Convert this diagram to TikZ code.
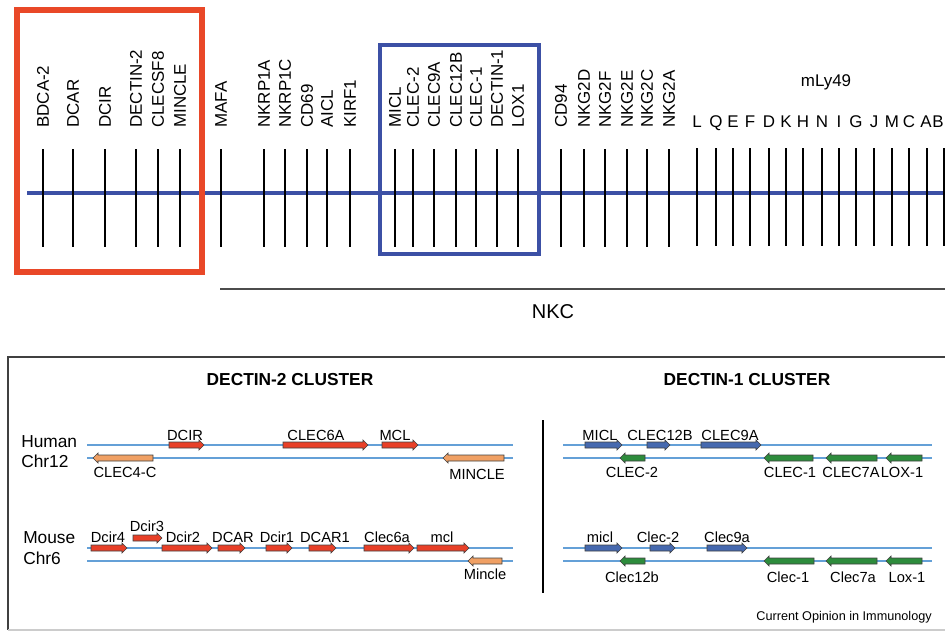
\documentclass[tikz,border=0pt]{standalone}
\usepackage{fontspec}
\setmainfont{Liberation Sans}
\usepackage{tikz}
\usetikzlibrary{positioning}
\usepackage{xcolor}

\definecolor{boxred}{RGB}{233,72,40}
\definecolor{chrblue}{RGB}{60,80,165}
\definecolor{strand}{RGB}{100,160,215}
\definecolor{genered}{RGB}{232,64,40}
\definecolor{geneorange}{RGB}{240,160,100}
\definecolor{geneblue}{RGB}{70,105,175}
\definecolor{genegreen}{RGB}{45,140,60}

% gene arrows: from, to, y, colour
\newcommand{\genefw}[4]{\draw[gene, fill=#4] (#1,#3-3) -- (#2-5,#3-3) -- (#2-5,#3-5) -- (#2,#3) -- (#2-5,#3+5) -- (#2-5,#3+3) -- (#1,#3+3) -- cycle;}
\newcommand{\generv}[4]{\draw[gene, fill=#4] (#2,#3-3) -- (#1+5,#3-3) -- (#1+5,#3-5) -- (#1,#3) -- (#1+5,#3+5) -- (#1+5,#3+3) -- (#2,#3+3) -- cycle;}

\begin{document}
\begin{tikzpicture}[x=0.75pt, y=-0.75pt,
    tick/.style={line width=1.9pt},
    thintick/.style={line width=0.9pt},
    vlbl/.style={rotate=90, anchor=west, inner sep=0pt, font=\fontsize{12.7}{14}\selectfont},
    glbl/.style={anchor=base, inner sep=0pt, font=\fontsize{11}{13}\selectfont},
    chrlbl/.style={anchor=base west, inner sep=0pt, font=\fontsize{13}{15}\selectfont},
    strandline/.style={strand, line width=1.1pt},
    gene/.style={draw=black!75, line width=0.5pt}]
    \useasboundingbox (0,0) rectangle (945,632);

    % Chromosome map
    \draw[chrblue, line width=3pt] (27,193) -- (945,193);
    \foreach \x/\name in {43/BDCA-2, 73/DCAR, 105/DCIR, 136/DECTIN-2, 158/CLECSF8, 180/MINCLE, 221/MAFA,
        264/NKRP1A, 285/NKRP1C, 307/CD69, 327/AICL, 350/KIRF1, 395/MICL, 413/CLEC-2, 434/CLEC9A,
        456/CLEC12B, 476/CLEC-1, 497/DECTIN-1, 518/LOX1, 561/CD94, 584/NKG2D, 605/NKG2F, 627/NKG2E,
        647/NKG2C, 669/NKG2A}
    {
        \draw[tick] (\x,149) -- (\x,247);
        \node[vlbl] (n-\name) at (\x,128) {\name};
    }
    \foreach \x/\l in {697/L, 716/Q, 733/E, 750/F, 769/D, 786/K, 803/H, 822/N, 839/I, 856/G, 874/J,
        892/M, 909/C, 927/A, 944/B}
        \draw[thintick] (\x,148) -- (\x,246);
    \foreach \x/\l in {697/L, 716/Q, 733/E, 750/F, 769/D, 786/K, 803/H, 822/N, 839/I, 856/G, 874/J,
        892/M, 909/C, 926/A, 938/B}
        \node[anchor=base, inner sep=0pt, font=\fontsize{12.7}{14}\selectfont] (ly-\l) at (\x,127) {\l};
    \node[anchor=base, inner sep=0pt, font=\fontsize{12.7}{14}\selectfont] (ly49) at (826,86) {mLy49};

    \draw[boxred, line width=4.5pt] (17,10) rectangle (202,272);
    \draw[chrblue, line width=3.7pt] (380,45) rectangle (539,254);

    \draw[black!70, line width=1.2pt] (220,289) -- (945,289);
    \node[anchor=base, inner sep=0pt, font=\fontsize{15}{17}\selectfont] (nkc) at (553,318) {NKC};

    % Cluster panel
    \draw[black!75, line width=1pt] (945,357) -- (8,357) -- (8,630);
    \draw[black!20, line width=1pt] (8,630) -- (945,630);
    \node[font=\fontsize{13}{15}\selectfont\bfseries] (dec2) at (290,380) {DECTIN-2 CLUSTER};
    \node[font=\fontsize{13}{15}\selectfont\bfseries] (dec1) at (747,380) {DECTIN-1 CLUSTER};
    \draw[line width=2.2pt] (543,420) -- (543,593);

    \node[chrlbl] (human) at (21,447) {Human};
    \node[chrlbl] (chr12) at (21,467) {Chr12};
    \node[chrlbl] (mouse) at (23,543) {Mouse};
    \node[chrlbl] (chr6) at (23,564) {Chr6};

    \foreach \y in {445,458,548,561} {
        \draw[strandline] (87,\y) -- (513,\y);
        \draw[strandline] (563,\y) -- (932,\y);
    }

    % Dectin-2 cluster, human
    \genefw{169}{204}{445}{genered}
    \genefw{283}{368}{445}{genered}
    \genefw{382}{418}{445}{genered}
    \generv{93}{153}{458}{geneorange}
    \generv{443}{504}{458}{geneorange}
    \node[glbl] (h-dcir) at (185,440) {DCIR};
    \node[glbl] (h-clec6a) at (316,440) {CLEC6A};
    \node[glbl] (h-mcl) at (395,440) {MCL};
    \node[glbl] (h-clec4c) at (125,477) {CLEC4-C};
    \node[glbl] (h-mincle) at (477,479) {MINCLE};

    % Dectin-2 cluster, mouse
    \genefw{91}{127}{548}{genered}
    \genefw{133}{162}{538}{genered}
    \genefw{162}{212}{548}{genered}
    \genefw{218}{245}{548}{genered}
    \genefw{266}{292}{548}{genered}
    \genefw{309}{336}{548}{genered}
    \genefw{364}{414}{548}{genered}
    \genefw{417}{469}{548}{genered}
    \generv{468}{502}{561}{geneorange}
    \node[glbl] (m-dcir4) at (108,542) {Dcir4};
    \node[glbl] (m-dcir3) at (147,531) {Dcir3};
    \node[glbl] (m-dcir2) at (183,542) {Dcir2};
    \node[glbl] (m-dcar) at (233,542) {DCAR};
    \node[glbl] (m-dcir1) at (277,542) {Dcir1};
    \node[glbl] (m-dcar1) at (325,542) {DCAR1};
    \node[glbl] (m-clec6a) at (387,542) {Clec6a};
    \node[glbl] (m-mcl) at (442,542) {mcl};
    \node[glbl] (m-mincle) at (485,579) {Mincle};

    % Dectin-1 cluster, human
    \genefw{585}{622}{445}{geneblue}
    \genefw{647}{670}{445}{geneblue}
    \genefw{701}{761}{445}{geneblue}
    \generv{620}{645}{458}{genegreen}
    \generv{764}{813}{458}{genegreen}
    \generv{826}{877}{458}{genegreen}
    \generv{886}{922}{458}{genegreen}
    \node[glbl] (h-micl) at (600,440) {MICL};
    \node[glbl] (h-clec12b) at (660,440) {CLEC12B};
    \node[glbl] (h-clec9a) at (730,440) {CLEC9A};
    \node[glbl] (h-clec2) at (632,477) {CLEC-2};
    \node[glbl] (h-clec1) at (790,477) {CLEC-1};
    \node[glbl] (h-clec7a) at (851,477) {CLEC7A};
    \node[glbl] (h-lox1) at (902,477) {LOX-1};

    % Dectin-1 cluster, mouse
    \genefw{585}{622}{548}{geneblue}
    \genefw{650}{675}{548}{geneblue}
    \genefw{707}{747}{548}{geneblue}
    \generv{620}{645}{561}{genegreen}
    \generv{764}{814}{561}{genegreen}
    \generv{826}{877}{561}{genegreen}
    \generv{886}{922}{561}{genegreen}
    \node[glbl] (m-micl) at (600,542) {micl};
    \node[glbl] (m-clec2) at (658,542) {Clec-2};
    \node[glbl] (m-clec9a) at (727,542) {Clec9a};
    \node[glbl] (m-clec12b) at (632,582) {Clec12b};
    \node[glbl] (m-clec1) at (788,582) {Clec-1};
    \node[glbl] (m-clec7a) at (853,582) {Clec7a};
    \node[glbl] (m-lox1) at (907,582) {Lox-1};

    \node[anchor=base east, inner sep=0pt, font=\fontsize{9.5}{11}\selectfont] (credit) at (932,620) {Current Opinion in Immunology};
\end{tikzpicture}
\end{document}
